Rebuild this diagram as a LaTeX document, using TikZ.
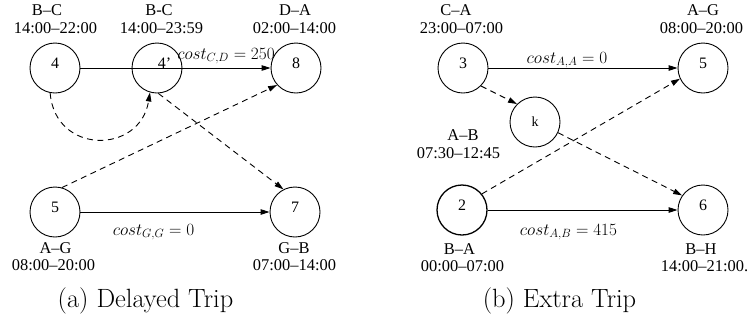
\documentclass[tikz,border=0pt]{standalone}
\usepackage{fontspec}
\newfontfamily\timesf{Liberation Serif}
\usetikzlibrary{arrows.meta}
\begin{document}
\begin{tikzpicture}[x=1bp,y=-1bp,
  trip/.style={circle,draw,line width=0.9bp,minimum size=50bp,inner sep=0pt,
    font=\timesf\fontsize{16}{18}\selectfont,text height=5bp,text depth=4bp},
  ktrip/.style={circle,draw,line width=0.9bp,minimum size=50bp,inner sep=0pt,
    font=\timesf\fontsize{14}{16}\selectfont},
  lbl/.style={anchor=base,inner sep=0pt,font=\timesf\fontsize{16.5}{18}\selectfont},
  costlbl/.style={anchor=base,inner sep=0pt,font=\fontsize{16.5}{18}\selectfont},
  captext/.style={anchor=base,inner sep=0pt,font=\fontsize{26.5}{30}\selectfont},
  flow/.style={line width=0.9bp,-{Triangle[length=9bp,width=5.5bp]}},
  dflow/.style={flow,dash pattern=on 6bp off 4.5bp}]
\path[use as bounding box] (0,0) rectangle (751,324);

% panel (a)
\node[trip] (n4) at (55,68) {4};
\node[trip] (n4p) at (157,68) {\hspace*{15bp}4’};
\node[trip] (n8) at (296,68) {8};
\node[trip] (n5) at (55,212) {5};
\node[trip] (n7) at (295,212) {7};

\node[lbl] (t4a) at (47,15) {B–C};
\node[lbl] (t4b) at (55.5,33) {14:00–22:00};
\node[lbl] (t4pa) at (159,15) {B-C};
\node[lbl] (t4pb) at (161.5,33) {14:00–23:59};
\node[lbl] (t8a) at (295,15) {D–A};
\node[lbl] (t8b) at (294.5,33) {02:00–14:00};
\node[lbl] (t5a) at (55.5,253) {A–G};
\node[lbl] (t5b) at (53.5,270) {08:00–20:00};
\node[lbl] (t7a) at (294,253) {G–B};
\node[lbl] (t7b) at (294.5,270) {07:00–14:00};

\node[costlbl] (c1) at (226,59) {$cost_{C,D} = 250$};
\node[costlbl] (c2) at (153.5,235) {$cost_{G,G} = 0$};

\draw[flow] (n4) -- (n8);
\draw[dflow] (n4.-101) .. controls +(5,62) and +(-10,62) .. (n4p.-106);
\draw[dflow] (n4p.-87) -- (n7.117);
\draw[dflow] (n5.74) -- (n8.222);
\draw[flow] (n5) -- (n7);

\node[captext] (capa) at (145.5,307) {(a) Delayed Trip};

% panel (b)
\node[trip] (n3) at (463,68) {3};
\node[trip] (n5b) at (703,68) {5};
\node[ktrip] (k) at (535,122) {k};
\node[trip,line width=1.3bp] (n2) at (462,210) {2};
\node[trip] (n6) at (703,210) {6};

\node[lbl] (t3a) at (456,15) {C–A};
\node[lbl] (t3b) at (461.5,33) {23:00–07:00};
\node[lbl] (t5ba) at (703,15) {A–G};
\node[lbl] (t5bb) at (701.5,33) {08:00–20:00};
\node[lbl] (tka) at (463,140) {A–B};
\node[lbl] (tkb) at (458.5,158) {07:30–12:45};
\node[lbl] (t2a) at (459.5,254) {B–A};
\node[lbl] (t2b) at (462.5,271) {00:00–07:00};
\node[lbl] (t6a) at (701,254) {B–H};
\node[lbl] (t6b) at (704.5,271) {14:00–21:00.};

\node[costlbl] (c3) at (567,63) {$cost_{A,A} = 0$};
\node[costlbl] (c4) at (568.5,235) {$cost_{A,B} = 415$};

\draw[flow] (n3) -- (n5b);
\draw[dflow] (n3.-45) -- (k.135);
\draw[dflow] (k.-25) -- (n6.145);
\draw[dflow] (n2.39) -- (n5b.205);
\draw[flow] (n2) -- (n6);

\node[captext] (capb) at (559.5,307) {(b) Extra Trip};
\end{tikzpicture}
\end{document}
